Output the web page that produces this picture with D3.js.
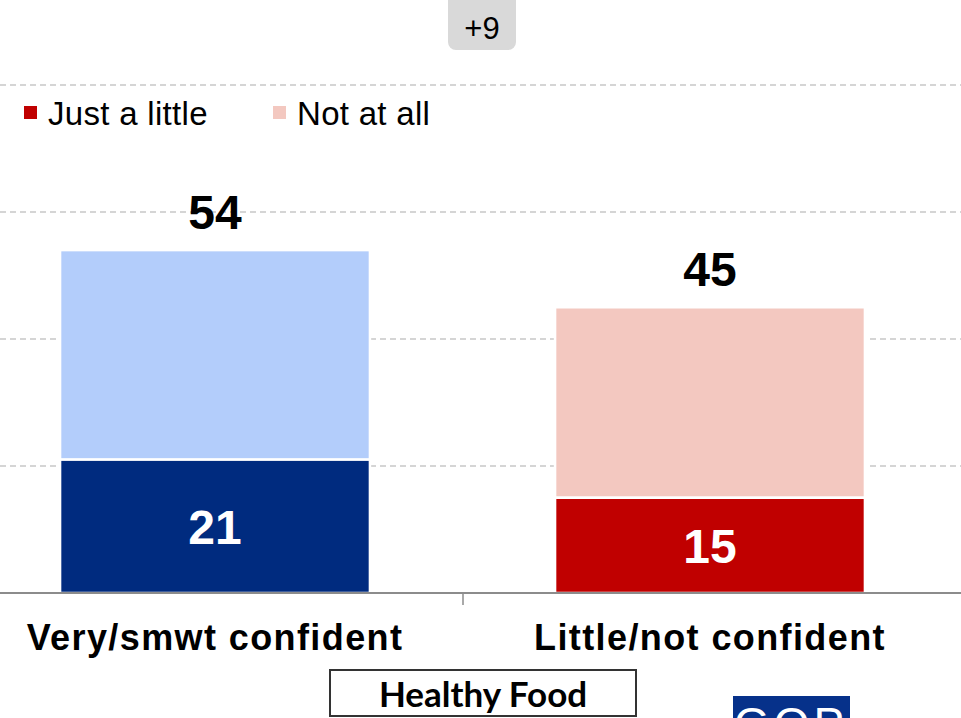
<!DOCTYPE html>
<html>
<head>
<meta charset="utf-8">
<script src="https://cdn.jsdelivr.net/npm/d3@7"></script>
<style>
  html, body { margin: 0; padding: 0; background: #fff; }
  svg { display: block; }
</style>
</head>
<body>
<svg id="chart" width="961" height="718"></svg>
<script>
const categories = ['Very/smwt confident', 'Little/not confident']
const bottomValues = [21, 15]
const totalValues = [54, 45]
const bottomColors = ['#002b7f', '#c00000']
const topColors = ['#b3cdfb', '#f3c8c0']
const gridTicks = [20, 40, 60, 80]
const legendItems = ['Just a little', 'Not at all']
const legendColors = ['#c00000', '#f3c8c0']
const diffLabel = '+9'
const footerLabel = 'Healthy Food'

const width = 961
const svg = d3.select('#chart')

const x = d3
  .scaleBand()
  .domain(categories)
  .range([-32.5, 957.5])
  .paddingInner(0.374)
  .paddingOuter(0.187)

const y = d3.scaleLinear().domain([0, 80]).range([593, 85])

// dashed gridlines
svg
  .append('g')
  .selectAll('line')
  .data(gridTicks)
  .join('line')
  .attr('x1', 0)
  .attr('x2', width)
  .attr('y1', (d) => y(d))
  .attr('y2', (d) => y(d))
  .attr('stroke', '#c8c8c8')
  .attr('stroke-width', 1.3)
  .attr('stroke-dasharray', '6,4')

// difference badge
svg
  .append('rect')
  .attr('x', 448)
  .attr('y', -10)
  .attr('width', 68)
  .attr('height', 60)
  .attr('rx', 8)
  .attr('fill', '#d9d9d9')
svg
  .append('text')
  .attr('x', 482)
  .attr('y', 39)
  .attr('text-anchor', 'middle')
  .attr('font-family', 'Liberation Sans, Arial, sans-serif')
  .attr('font-size', 31)
  .attr('fill', '#000')
  .text(diffLabel)

// legend
const legend = svg
  .append('g')
  .selectAll('g')
  .data(legendItems)
  .join('g')
  .attr('transform', (_, i) => `translate(${[24, 273][i]},0)`)
legend
  .append('rect')
  .attr('x', 0)
  .attr('y', 106)
  .attr('width', 13)
  .attr('height', 13)
  .attr('fill', (_, i) => legendColors[i])
legend
  .append('text')
  .attr('x', 24)
  .attr('y', 125)
  .attr('font-family', 'Liberation Sans, Arial, sans-serif')
  .attr('font-size', 33)
  .attr('letter-spacing', 0.3)
  .attr('fill', '#000')
  .text((d) => d)

// stacked bars
const bars = svg
  .append('g')
  .selectAll('g')
  .data(categories)
  .join('g')

bars
  .append('rect')
  .attr('x', (d) => x(d))
  .attr('width', x.bandwidth())
  .attr('y', (_, i) => y(totalValues[i]))
  .attr('height', (_, i) => y(bottomValues[i]) - y(totalValues[i]))
  .attr('fill', (_, i) => topColors[i])
  .attr('stroke', '#fff')
  .attr('stroke-width', 2.5)

bars
  .append('rect')
  .attr('x', (d) => x(d))
  .attr('width', x.bandwidth())
  .attr('y', (_, i) => y(bottomValues[i]))
  .attr('height', (_, i) => y(0) - y(bottomValues[i]))
  .attr('fill', (_, i) => bottomColors[i])
  .attr('stroke', '#fff')
  .attr('stroke-width', 2.5)

bars
  .append('text')
  .attr('x', (d) => x(d) + x.bandwidth() / 2)
  .attr('y', (_, i) => (y(bottomValues[i]) + y(0)) / 2)
  .attr('dy', '0.36em')
  .attr('text-anchor', 'middle')
  .attr('font-family', 'Liberation Sans, Arial, sans-serif')
  .attr('font-weight', 'bold')
  .attr('font-size', 48)
  .attr('fill', '#fff')
  .text((_, i) => bottomValues[i])

bars
  .append('text')
  .attr('x', (d) => x(d) + x.bandwidth() / 2)
  .attr('y', (_, i) => y(totalValues[i]) - 21)
  .attr('text-anchor', 'middle')
  .attr('font-family', 'Liberation Sans, Arial, sans-serif')
  .attr('font-weight', 'bold')
  .attr('font-size', 48)
  .attr('fill', '#000')
  .text((_, i) => totalValues[i])

// baseline + axis
svg
  .append('line')
  .attr('x1', 0)
  .attr('x2', width)
  .attr('y1', y(0))
  .attr('y2', y(0))
  .attr('stroke', '#8c8c8c')
  .attr('stroke-width', 2)
svg
  .append('line')
  .attr('x1', 463)
  .attr('x2', 463)
  .attr('y1', y(0))
  .attr('y2', y(0) + 12)
  .attr('stroke', '#8c8c8c')
  .attr('stroke-width', 1.5)

svg
  .append('g')
  .selectAll('text')
  .data(categories)
  .join('text')
  .attr('x', (d) => x(d) + x.bandwidth() / 2)
  .attr('y', 650)
  .attr('text-anchor', 'middle')
  .attr('font-family', 'Liberation Sans, Arial, sans-serif')
  .attr('font-weight', 'bold')
  .attr('font-size', 36)
  .attr('letter-spacing', 1.4)
  .attr('fill', '#000')
  .text((d) => d)

// footer box
svg
  .append('rect')
  .attr('x', 330)
  .attr('y', 670)
  .attr('width', 306)
  .attr('height', 46)
  .attr('fill', '#fff')
  .attr('stroke', '#333')
  .attr('stroke-width', 2)
svg
  .append('text')
  .attr('x', 483)
  .attr('y', 707)
  .attr('text-anchor', 'middle')
  .attr('font-family', 'Lato, Open Sans, sans-serif')
  .attr('font-weight', 'bold')
  .attr('font-size', 35)
  .attr('fill', '#000')
  .text(footerLabel)

// logo (cut off at bottom edge, as in the source slide)
svg
  .append('rect')
  .attr('x', 733)
  .attr('y', 696)
  .attr('width', 117)
  .attr('height', 40)
  .attr('fill', '#06318a')
svg
  .append('text')
  .attr('x', 791)
  .attr('y', 740)
  .attr('text-anchor', 'middle')
  .attr('font-family', 'Liberation Sans, Arial, sans-serif')
  .attr('font-size', 46)
  .attr('letter-spacing', 4)
  .attr('fill', '#fff')
  .text('GOP')
svg
  .append('text')
  .attr('x', 875)
  .attr('y', 740)
  .attr('font-family', 'Liberation Sans, Arial, sans-serif')
  .attr('font-size', 36)
  .attr('fill', '#000')
  .text('c')
</script>
</body>
</html>
